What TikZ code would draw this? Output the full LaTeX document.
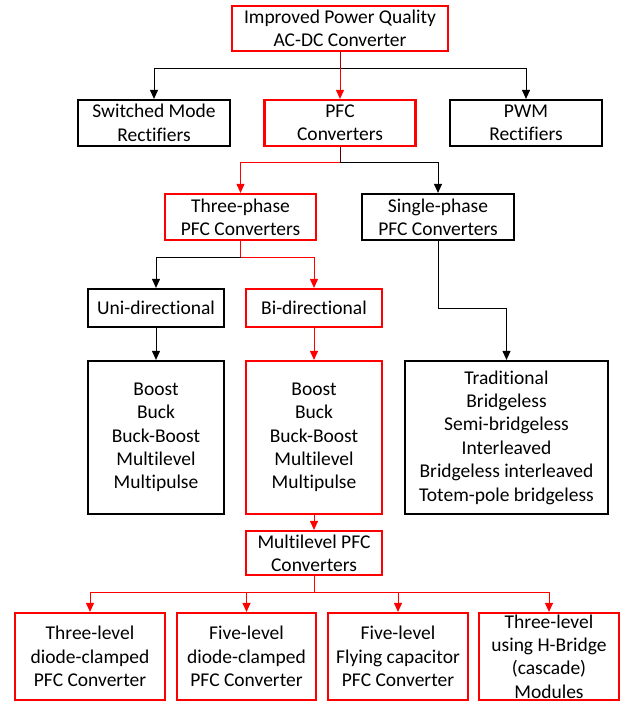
\documentclass[tikz,border=0pt]{standalone}
\usepackage{fontspec}
\setmainfont{Carlito}[Ligatures={NoCommon}]
\usetikzlibrary{arrows.meta}
\definecolor{bred}{RGB}{255,0,0}
\begin{document}
\begin{tikzpicture}[x=1pt,y=-1pt,
  box/.style={draw, line width=2.2pt, inner sep=0pt, align=center,
    font=\fontsize{19.5}{23.4}\selectfont},
  rbox/.style={box, draw=bred},
  kbox/.style={box, draw=black},
  conn/.style={line width=1pt, -{Triangle[length=9pt,width=8pt]}},
  rconn/.style={conn, draw=bred},
  kconn/.style={conn, draw=black},
]
\useasboundingbox[fill=white] (0,0) rectangle (621,704);

\node[rbox, minimum width=216pt, minimum height=45pt] (top) at (340,28.5) {Improved Power Quality\\AC-DC Converter};
\node[kbox, minimum width=152pt, minimum height=46pt] (sw) at (154,123) {Switched Mode\\Rectifiers};
\node[rbox, minimum width=151pt, minimum height=46pt] (pfc) at (340,123) {PFC\\Converters};
\node[kbox, minimum width=152pt, minimum height=46pt] (pwm) at (526,123) {PWM\\Rectifiers};

\node[rbox, minimum width=151pt, minimum height=46pt] (three) at (240.5,217) {Three-phase\\PFC Converters};
\node[kbox, minimum width=152pt, minimum height=46pt] (single) at (438,217) {Single-phase\\PFC Converters};

\node[kbox, minimum width=136pt, minimum height=38pt] (uni) at (156,308) {Uni-directional};
\node[rbox, minimum width=136pt, minimum height=38pt] (bi) at (314,308) {Bi-directional};

\node[kbox, minimum width=136pt, minimum height=153pt] (unilist) at (156,437.5) {Boost\\Buck\\Buck-Boost\\Multilevel\\Multipulse};
\node[rbox, minimum width=136pt, minimum height=153pt] (bilist) at (314,437.5) {Boost\\Buck\\Buck-Boost\\Multilevel\\Multipulse};
\node[kbox, minimum width=203pt, minimum height=153pt] (slist) at (506.5,437.5) {Traditional\\Bridgeless\\Semi-bridgeless\\Interleaved\\Bridgeless interleaved\\Totem-pole bridgeless};

\node[rbox, minimum width=136pt, minimum height=44pt] (multi) at (314,553) {Multilevel PFC\\Converters};

\node[rbox, minimum width=150pt, minimum height=87pt] (b1) at (90,656.5) {Three-level\\diode-clamped\\PFC Converter};
\node[rbox, minimum width=139pt, minimum height=87pt] (b2) at (246.5,656.5) {Five-level\\diode-clamped\\PFC Converter};
\node[rbox, minimum width=140pt, minimum height=87pt] (b3) at (398,656.5) {Five-level\\Flying capacitor\\PFC Converter};
\node[rbox, minimum width=140pt, minimum height=87pt] (b4) at (549,656.5) {Three-level\\using H-Bridge\\(cascade)\\Modules};

% junctions
\coordinate (j1) at (340,68);
\coordinate (j2) at (340,162);
\coordinate (j3) at (240.5,257);
\coordinate (j4) at (438,308);
\coordinate (j5) at (314,592);

% black connectors
\draw[kconn] (top.south) -- (j1) -| (sw.north);
\draw[kconn] (top.south) -- (j1) -| (pwm.north);
\draw[kconn] (pfc.south) -- (j2) -| (single.north);
\draw[kconn] (three.south) -- (j3) -| (uni.north);
\draw[kconn] (uni.south) -- (unilist.north);
\draw[kconn] (single.south) -- (j4) -| (slist.north);

% red connectors
\draw[rconn] (j1) -- (pfc.north);
\draw[rconn] (j2) -| (three.north);
\draw[rconn] (j3) -| (bi.north);
\draw[rconn] (bi.south) -- (bilist.north);
\draw[rconn] (bilist.south) -- (multi.north);
\draw[rconn] (multi.south) -- (j5) -| (b1.north);
\draw[rconn] (j5) -| (b2.north);
\draw[rconn] (j5) -| (b3.north);
\draw[rconn] (j5) -| (b4.north);

% mixed-colour stems
\draw[line width=1pt, red!65!black] (top.south) -- (j1);
\draw[line width=1pt, red!35!black] (pfc.south) -- (j2);
\draw[line width=1pt, bred] (three.south) -- (j3);
\end{tikzpicture}
\end{document}
